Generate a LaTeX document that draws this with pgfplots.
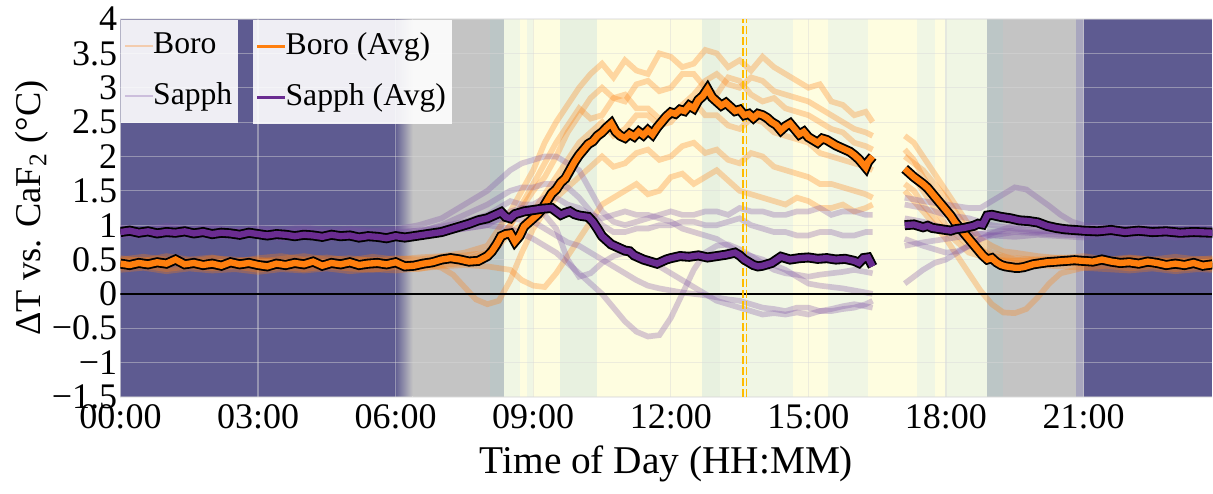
\documentclass[border=0pt]{standalone}
\usepackage{fontspec}
\setmainfont{Liberation Serif}
\usepackage{pgfplots}
\pgfplotsset{compat=1.18}

\definecolor{navy}{RGB}{94,91,145}
\definecolor{bggray}{RGB}{196,196,196}
\definecolor{bgblue}{RGB}{188,198,198}
\definecolor{bgyel}{RGB}{254,253,224}
\definecolor{bggreen}{RGB}{240,246,228}
\definecolor{bggreen2}{RGB}{232,241,224}
\definecolor{bglav}{RGB}{168,166,190}
\definecolor{boro}{RGB}{255,127,14}
\definecolor{sapph}{RGB}{106,44,145}
\definecolor{sapphl}{RGB}{125,80,165}
\definecolor{amber}{RGB}{255,188,0}

\pgfplotsset{
  base/.style={width=327.6pt, height=113.4pt, scale only axis,
    xmin=0, xmax=23.81, ymin=-1.5, ymax=4, unbounded coords=jump},
  ind/.style={line width=1.7pt, opacity=0.3, forget plot},
  lgd/.style={draw=none, fill=white, fill opacity=0.9, text opacity=1,
    font=\fontsize{9.5}{11}\selectfont, inner xsep=1pt, inner ysep=3.4pt,
    row sep=6pt, cells={anchor=west},
    nodes={inner ysep=0.6pt, inner xsep=0.8pt},
    /tikz/every odd column/.append style={column sep=-1.2pt}},
}

\begin{document}
\begin{tikzpicture}
% ---------- background bands ----------
\begin{axis}[base, hide axis]
 \fill[navy] (axis cs:0,-1.5) rectangle (axis cs:5.98,4);
 \shade[left color=navy,right color=bggray] (axis cs:5.98,-1.5) rectangle (axis cs:6.37,4);
 \fill[bggray] (axis cs:6.37,-1.5) rectangle (axis cs:8.05,4);
 \fill[bgblue] (axis cs:8.05,-1.5) rectangle (axis cs:8.36,4);
 \fill[bggreen] (axis cs:8.36,-1.5) rectangle (axis cs:8.71,4);
 \fill[bgyel] (axis cs:8.71,-1.5) rectangle (axis cs:8.86,4);
 \fill[bggreen] (axis cs:8.86,-1.5) rectangle (axis cs:8.99,4);
 \fill[bgyel] (axis cs:8.99,-1.5) rectangle (axis cs:9.58,4);
 \fill[bggreen2] (axis cs:9.58,-1.5) rectangle (axis cs:10.39,4);
 \fill[bgyel] (axis cs:10.39,-1.5) rectangle (axis cs:12.67,4);
 \fill[bggreen2] (axis cs:12.67,-1.5) rectangle (axis cs:13.07,4);
 \fill[bggreen] (axis cs:13.07,-1.5) rectangle (axis cs:14.66,4);
 \fill[bgyel] (axis cs:14.66,-1.5) rectangle (axis cs:15.42,4);
 \fill[bggreen] (axis cs:15.42,-1.5) rectangle (axis cs:16.29,4);
 \fill[bgyel] (axis cs:16.29,-1.5) rectangle (axis cs:17.36,4);
 \fill[bggreen] (axis cs:17.36,-1.5) rectangle (axis cs:17.75,4);
 \fill[bgyel] (axis cs:17.75,-1.5) rectangle (axis cs:17.97,4);
 \fill[bggreen] (axis cs:17.97,-1.5) rectangle (axis cs:18.89,4);
 \fill[bgblue] (axis cs:18.89,-1.5) rectangle (axis cs:19.24,4);
 \fill[bggray] (axis cs:19.24,-1.5) rectangle (axis cs:20.83,4);
 \fill[bglav] (axis cs:20.83,-1.5) rectangle (axis cs:21.02,4);
 \fill[navy] (axis cs:21.02,-1.5) rectangle (axis cs:23.81,4);
\end{axis}

% ---------- main axis: grid, ticks, individual runs ----------
\begin{axis}[base, name=main,
  axis line style={draw=none}, major tick length=0pt,
  xtick={0,3,6,9,12,15,18,21},
  xticklabels={00:00,03:00,06:00,09:00,12:00,15:00,18:00,21:00},
  ytick={-1.5,-1,-0.5,0,0.5,1,1.5,2,2.5,3,3.5,4},
  yticklabels={−1.5,−1,−0.5,0,0.5,1,1.5,2,2.5,3,3.5,4},
  tick label style={font=\fontsize{10.8}{12}\selectfont},
  yticklabel style={inner sep=0pt, xshift=-0.8pt},
  xticklabel style={inner sep=0pt, yshift=-2pt},
  xlabel={Time of Day (HH:MM)},
  ylabel={ΔT vs. CaF\textsubscript{2} (°C)},
  xlabel style={font=\fontsize{11.8}{14}\selectfont, at={(axis description cs:0.5,-0.177)}, anchor=center},
  ylabel style={font=\fontsize{10.9}{13}\selectfont, at={(axis description cs:-0.081,0.5)}, anchor=center},
  grid=major, major grid style={black!15, opacity=0.45, line width=0.35pt},
  legend style={lgd, at={(0,1)}, anchor=north west},
  legend cell align=left,
  legend image code/.code={\draw[#1, line width=0.6pt] (0pt,0pt) -- (8.4pt,0pt);},
]
\addlegendimage{boro, opacity=0.3}\addlegendentry{Boro}
\addlegendimage{sapphl, opacity=0.3}\addlegendentry{Sapph}

% Boro runs
\addplot[boro, ind] coordinates {(0,0.52)(0.5,0.48)(1,0.55)(1.5,0.5)(2,0.53)(2.5,0.47)(3,0.52)(3.5,0.55)(4,0.5)(4.5,0.53)(5,0.49)(5.5,0.54)(6,0.5)(6.5,0.53)(7,0.55)(7.5,0.6)(8,0.7)(8.25,0.95)(8.5,1.2)(8.75,1.5)(9,1.8)(9.25,2.2)(9.5,2.5)(9.75,2.75)(10,3.0)(10.25,3.2)(10.5,3.35)(10.75,3.15)(11,3.4)(11.25,3.25)(11.5,3.2)(11.75,3.5)(12,3.45)(12.25,3.3)(12.5,3.35)(12.75,3.55)(13,3.5)(13.25,3.3)(13.5,3.4)(13.75,3.25)(14,3.45)(14.25,3.3)(14.5,3.2)(14.75,3.1)(15,3.0)(15.25,3.05)(15.5,2.8)(15.75,2.75)(16,2.6)(16.25,2.65)(16.4,2.5)(16.7,nan)(17.1,2.3)(17.3,2.2)(17.5,2.0)(17.75,1.75)(18,1.5)(18.25,1.25)(18.5,1.0)(18.75,0.8)(19,0.7)(19.25,0.62)(19.5,0.6)(20,0.55)(20.5,0.52)(21,0.55)(21.5,0.5)(22,0.53)(22.5,0.5)(23,0.54)(23.5,0.5)(23.81,0.52)};
\addplot[boro, ind] coordinates {(0,0.45)(0.5,0.42)(1,0.47)(1.5,0.44)(2,0.4)(2.5,0.46)(3,0.43)(3.5,0.45)(4,0.41)(4.5,0.46)(5,0.44)(5.5,0.42)(6,0.45)(6.5,0.43)(7,0.48)(7.5,0.5)(8,0.6)(8.25,0.8)(8.5,1.0)(8.75,1.25)(9,1.5)(9.25,1.7)(9.5,2.0)(9.75,2.35)(10,2.6)(10.25,2.85)(10.5,3.0)(10.75,2.85)(11,2.8)(11.25,3.05)(11.5,3.1)(11.75,2.95)(12,3.0)(12.25,3.2)(12.5,3.2)(12.75,3.0)(13,2.9)(13.25,3.15)(13.5,3.1)(13.75,2.9)(14,2.8)(14.25,2.85)(14.5,2.7)(14.75,2.65)(15,2.6)(15.25,2.5)(15.5,2.4)(15.75,2.35)(16,2.2)(16.25,2.15)(16.4,2.1)(16.7,nan)(17.1,2.0)(17.3,1.9)(17.5,1.8)(17.75,1.6)(18,1.4)(18.25,1.15)(18.5,0.9)(18.75,0.7)(19,0.6)(19.5,0.5)(20,0.47)(20.5,0.45)(21,0.43)(21.5,0.46)(22,0.44)(22.5,0.42)(23,0.45)(23.5,0.43)(23.81,0.44)};
\addplot[boro, ind] coordinates {(0,0.38)(0.5,0.41)(1,0.36)(1.5,0.4)(2,0.37)(2.5,0.4)(3,0.35)(3.5,0.39)(4,0.36)(4.5,0.4)(5,0.37)(5.5,0.35)(6,0.39)(6.5,0.36)(7,0.42)(7.5,0.45)(8,0.55)(8.25,0.7)(8.5,0.9)(8.75,1.0)(9,1.2)(9.25,1.45)(9.5,1.7)(9.75,1.95)(10,2.2)(10.25,2.35)(10.5,2.5)(10.75,2.3)(11,2.4)(11.25,2.6)(11.5,2.6)(11.75,2.45)(12,2.5)(12.25,2.7)(12.5,2.8)(12.75,2.6)(13,2.6)(13.25,2.45)(13.5,2.4)(13.75,2.55)(14,2.5)(14.25,2.35)(14.5,2.3)(14.75,2.25)(15,2.2)(15.25,2.05)(15.5,2.0)(15.75,1.95)(16,1.9)(16.25,1.85)(16.4,1.8)(16.7,nan)(17.1,1.8)(17.3,1.7)(17.5,1.5)(17.75,1.25)(18,1.0)(18.25,0.85)(18.5,0.7)(18.75,0.6)(19,0.5)(19.5,0.45)(20,0.42)(20.5,0.4)(21,0.38)(21.5,0.41)(22,0.37)(22.5,0.4)(23,0.36)(23.5,0.39)(23.81,0.37)};
\addplot[boro, ind] coordinates {(0,0.48)(0.5,0.5)(1,0.46)(1.5,0.49)(2,0.45)(2.5,0.48)(3,0.5)(3.5,0.46)(4,0.49)(4.5,0.45)(5,0.48)(5.5,0.5)(6,0.46)(6.5,0.45)(6.75,0.42)(7,0.38)(7.25,0.28)(7.5,0.1)(7.75,-0.08)(8,-0.15)(8.25,-0.1)(8.5,0.2)(8.75,0.6)(9,0.95)(9.25,1.2)(9.5,1.4)(9.75,1.55)(10,1.7)(10.25,1.85)(10.5,2.0)(10.75,1.85)(11,1.9)(11.25,2.05)(11.5,2.1)(11.75,1.95)(12,2.0)(12.25,2.15)(12.5,2.2)(12.75,2.05)(13,2.1)(13.25,1.95)(13.5,1.9)(13.75,2.05)(14,2.0)(14.25,1.85)(14.5,1.8)(14.75,1.75)(15,1.7)(15.25,1.6)(15.5,1.6)(15.75,1.55)(16,1.5)(16.25,1.45)(16.4,1.4)(16.7,nan)(17.1,1.6)(17.3,1.5)(17.5,1.3)(17.75,1.1)(18,0.9)(18.25,0.75)(18.5,0.6)(18.75,0.55)(19,0.5)(19.5,0.48)(20,0.5)(20.5,0.47)(21,0.49)(21.5,0.46)(22,0.5)(22.5,0.47)(23,0.49)(23.5,0.46)(23.81,0.48)};
\addplot[boro, ind] coordinates {(0,0.35)(0.5,0.38)(1,0.33)(1.5,0.37)(2,0.34)(2.5,0.36)(3,0.32)(3.5,0.36)(4,0.34)(4.5,0.37)(5,0.33)(5.5,0.36)(6,0.34)(6.5,0.37)(7,0.4)(7.5,0.42)(8,0.4)(8.5,0.35)(8.75,0.2)(9,0.12)(9.25,0.1)(9.5,0.3)(9.75,0.55)(10,0.8)(10.25,1.05)(10.5,1.3)(10.75,1.4)(11,1.5)(11.25,1.6)(11.5,1.45)(11.75,1.5)(12,1.7)(12.25,1.75)(12.5,1.6)(12.75,1.7)(13,1.8)(13.25,1.65)(13.5,1.5)(13.75,1.45)(14,1.4)(14.25,1.35)(14.5,1.3)(14.75,1.4)(15,1.35)(15.25,1.25)(15.5,1.25)(15.75,1.3)(16,1.2)(16.25,1.25)(16.4,1.3)(16.7,nan)(17.1,1.5)(17.3,1.35)(17.5,1.2)(17.75,1.0)(18,0.8)(18.25,0.55)(18.5,0.3)(18.75,0.05)(19,-0.15)(19.25,-0.27)(19.5,-0.28)(19.75,-0.22)(20,-0.05)(20.25,0.15)(20.5,0.3)(21,0.38)(21.5,0.36)(22,0.34)(22.5,0.37)(23,0.33)(23.5,0.36)(23.81,0.35)};
\addplot[boro, ind] coordinates {(0,0.5)(0.5,0.54)(1,0.5)(1.5,0.47)(2,0.52)(2.5,0.5)(3,0.47)(3.5,0.51)(4,0.55)(4.5,0.5)(5,0.52)(5.5,0.48)(6,0.52)(6.5,0.5)(7,0.54)(7.5,0.56)(8,0.6)(8.25,0.8)(8.5,1.0)(8.75,1.3)(9,1.6)(9.25,1.9)(9.5,2.2)(9.75,2.45)(10,2.7)(10.25,2.55)(10.5,2.6)(10.75,2.85)(11,2.9)(11.25,2.7)(11.5,2.7)(11.75,2.55)(12,2.6)(12.25,2.75)(12.5,2.9)(12.75,3.1)(13,3.2)(13.25,3.05)(13.5,3.0)(13.75,3.15)(14,3.1)(14.25,2.95)(14.5,2.9)(14.75,2.85)(15,2.8)(15.25,2.7)(15.5,2.6)(15.75,2.5)(16,2.4)(16.25,2.35)(16.4,2.3)(16.7,nan)(17.1,2.1)(17.3,1.95)(17.5,1.7)(17.75,1.45)(18,1.2)(18.25,1.0)(18.5,0.8)(18.75,0.65)(19,0.55)(19.5,0.52)(20,0.5)(20.5,0.53)(21,0.5)(21.5,0.48)(22,0.52)(22.5,0.5)(23,0.47)(23.5,0.51)(23.81,0.5)};

% Sapph runs
\addplot[sapphl, ind] coordinates {(0,0.97)(0.5,0.94)(1,0.99)(1.5,0.95)(2,0.97)(2.5,0.93)(3,0.96)(3.5,0.94)(4,0.97)(4.5,0.93)(5,0.95)(5.5,0.92)(6,0.94)(6.5,1.0)(7,1.1)(7.25,1.2)(7.5,1.3)(7.75,1.4)(8,1.5)(8.25,1.65)(8.5,1.8)(8.75,1.9)(9,1.95)(9.25,2.0)(9.5,2.0)(9.75,1.9)(10,1.8)(10.25,1.5)(10.5,1.2)(10.75,1.05)(11,1.0)(11.25,1.05)(11.5,1.1)(11.75,1.15)(12,1.2)(12.25,1.15)(12.5,1.15)(12.75,1.2)(13,1.2)(13.25,1.15)(13.5,1.25)(13.75,1.2)(14,1.2)(14.25,1.15)(14.5,1.15)(14.75,1.2)(15,1.2)(15.25,1.25)(15.5,1.15)(15.75,1.2)(16,1.2)(16.25,1.15)(16.4,1.15)(16.7,nan)(17.1,1.4)(17.5,1.35)(18,1.3)(18.5,1.25)(18.75,1.25)(19,1.35)(19.25,1.45)(19.5,1.55)(19.75,1.52)(20,1.4)(20.25,1.28)(20.5,1.15)(20.75,1.05)(21,1.0)(21.5,0.97)(22,0.95)(22.5,0.98)(23,0.94)(23.5,0.97)(23.81,0.95)};
\addplot[sapphl, ind] coordinates {(0,0.9)(0.5,0.93)(1,0.88)(1.5,0.91)(2,0.87)(2.5,0.9)(3,0.88)(3.5,0.86)(4,0.9)(4.5,0.87)(5,0.85)(5.5,0.88)(6,0.86)(6.5,0.9)(7,1.0)(7.5,1.15)(8,1.3)(8.25,1.4)(8.5,1.5)(8.75,1.55)(9,1.55)(9.25,1.6)(9.5,1.6)(9.75,1.55)(10,1.4)(10.25,1.2)(10.5,1.0)(10.75,0.9)(11,0.9)(11.25,0.95)(11.5,0.95)(11.75,1.0)(12,1.0)(12.25,1.05)(12.5,1.05)(12.75,1.0)(13,1.0)(13.25,1.05)(13.5,1.1)(13.75,1.0)(14,0.95)(14.25,0.9)(14.5,0.9)(14.75,0.85)(15,0.85)(15.25,0.9)(15.5,0.9)(15.75,0.85)(16,0.85)(16.25,0.9)(16.4,0.9)(16.7,nan)(17.1,1.3)(17.5,1.25)(18,1.15)(18.5,1.1)(19,1.0)(19.5,0.95)(20,0.92)(20.5,0.9)(21,0.88)(21.5,0.91)(22,0.87)(22.5,0.9)(23,0.88)(23.5,0.86)(23.81,0.89)};
\addplot[sapphl, ind] coordinates {(0,0.85)(0.5,0.88)(1,0.84)(1.5,0.87)(2,0.83)(2.5,0.86)(3,0.84)(3.5,0.82)(4,0.86)(4.5,0.83)(5,0.81)(5.5,0.84)(6,0.82)(6.5,0.85)(7,0.9)(7.5,0.95)(8,1.0)(8.5,0.95)(9,0.8)(9.25,0.7)(9.5,0.6)(9.75,0.45)(10,0.3)(10.25,0.15)(10.5,0.0)(10.75,-0.2)(11,-0.4)(11.25,-0.55)(11.5,-0.62)(11.75,-0.6)(12,-0.35)(12.25,0.0)(12.5,0.35)(12.75,0.6)(13,0.7)(13.25,0.72)(13.5,0.65)(13.75,0.55)(14,0.45)(14.25,0.35)(14.5,0.3)(14.75,0.28)(15,0.25)(15.25,0.28)(15.5,0.3)(15.75,0.32)(16,0.35)(16.25,0.32)(16.4,0.3)(16.7,nan)(17.1,0.15)(17.3,0.25)(17.5,0.35)(17.75,0.45)(18,0.5)(18.25,0.6)(18.5,0.7)(18.75,0.8)(19,0.85)(19.5,0.9)(20,0.88)(20.5,0.86)(21,0.85)(21.5,0.88)(22,0.84)(22.5,0.87)(23,0.83)(23.5,0.86)(23.81,0.85)};
\addplot[sapphl, ind] coordinates {(0,0.92)(0.5,0.89)(1,0.93)(1.5,0.9)(2,0.88)(2.5,0.92)(3,0.89)(3.5,0.91)(4,0.87)(4.5,0.9)(5,0.88)(5.5,0.86)(6,0.9)(6.5,0.92)(7,0.95)(7.5,1.0)(8,1.05)(8.5,1.1)(9,1.05)(9.25,0.95)(9.5,0.85)(9.75,0.75)(10,0.7)(10.25,0.6)(10.5,0.5)(10.75,0.4)(11,0.3)(11.25,0.2)(11.5,0.12)(11.75,0.08)(12,0.05)(12.25,0.02)(12.5,0.0)(12.75,-0.02)(13,-0.05)(13.25,-0.08)(13.5,-0.1)(13.75,-0.15)(14,-0.2)(14.25,-0.22)(14.5,-0.25)(14.75,-0.2)(15,-0.2)(15.25,-0.25)(15.5,-0.22)(15.75,-0.18)(16,-0.15)(16.25,-0.18)(16.4,-0.2)(16.7,nan)(17.1,0.7)(17.5,0.75)(18,0.8)(18.5,0.85)(19,0.9)(19.5,0.92)(20,0.9)(20.5,0.93)(21,0.9)(21.5,0.88)(22,0.92)(22.5,0.89)(23,0.91)(23.5,0.88)(23.81,0.9)};
\addplot[sapphl, ind] coordinates {(0,0.86)(0.5,0.83)(1,0.87)(1.5,0.84)(2,0.86)(2.5,0.82)(3,0.85)(3.5,0.81)(4,0.84)(4.5,0.8)(5,0.83)(5.5,0.8)(6,0.82)(6.5,0.86)(7,0.9)(7.5,0.95)(8,1.0)(8.25,1.1)(8.5,1.2)(8.75,1.25)(9,1.25)(9.25,1.15)(9.5,0.95)(9.75,0.5)(10,0.25)(10.25,0.3)(10.5,0.45)(10.75,0.55)(11,0.6)(11.25,0.55)(11.5,0.5)(11.75,0.4)(12,0.3)(12.25,0.2)(12.5,0.1)(12.75,0.0)(13,-0.1)(13.25,-0.15)(13.5,-0.2)(13.75,-0.25)(14,-0.3)(14.25,-0.28)(14.5,-0.3)(14.75,-0.27)(15,-0.3)(15.25,-0.25)(15.5,-0.25)(15.75,-0.22)(16,-0.2)(16.25,-0.15)(16.4,-0.1)(16.7,nan)(17.1,1.1)(17.5,1.05)(18,0.95)(18.5,0.9)(19,0.85)(19.5,0.83)(20,0.86)(20.5,0.84)(21,0.82)(21.5,0.86)(22,0.83)(22.5,0.85)(23,0.82)(23.5,0.85)(23.81,0.83)};
\addplot[sapphl, ind] coordinates {(0,0.95)(0.5,0.92)(1,0.96)(1.5,0.93)(2,0.95)(2.5,0.91)(3,0.94)(3.5,0.9)(4,0.93)(4.5,0.89)(5,0.92)(5.5,0.9)(6,0.88)(6.5,0.92)(7,0.98)(7.5,1.05)(8,1.15)(8.25,1.25)(8.5,1.35)(8.75,1.3)(9,1.3)(9.25,1.4)(9.5,1.4)(9.75,1.3)(10,1.25)(10.25,1.15)(10.5,1.1)(10.75,1.15)(11,1.2)(11.25,1.15)(11.5,1.15)(11.75,1.1)(12,1.05)(12.25,0.95)(12.5,0.9)(12.75,0.85)(13,0.8)(13.25,0.7)(13.5,0.6)(13.75,0.55)(14,0.5)(14.25,0.42)(14.5,0.35)(14.75,0.25)(15,0.15)(15.25,0.12)(15.5,0.1)(15.75,0.08)(16,0.05)(16.25,0.02)(16.4,0.0)(16.7,nan)(17.1,0.8)(17.5,0.7)(18,0.6)(18.25,0.62)(18.5,0.7)(18.75,0.8)(19,0.88)(19.5,1.0)(20,1.0)(20.5,0.97)(21,0.95)(21.5,0.93)(22,0.96)(22.5,0.92)(23,0.95)(23.5,0.91)(23.81,0.94)};

% zero line and marker line
\addplot[black, line width=0.6pt, forget plot] coordinates {(0,0)(23.81,0)};
\addplot[amber, line width=0.5pt, dash pattern=on 2.4pt off 0.9pt, forget plot] coordinates {(13.575,-1.5)(13.575,4)};
\addplot[amber, line width=0.5pt, dash pattern=on 2.4pt off 0.9pt, forget plot] coordinates {(13.65,-1.5)(13.65,4)};
\end{axis}

% ---------- averages ----------
\begin{axis}[base, hide axis,
  legend style={lgd, at={(0.1204,1)}, anchor=north west},
  legend cell align=left,
  legend image code/.code={\draw[#1] (0pt,0pt) -- (8.4pt,0pt);},
]
\addlegendimage{boro, line width=0.9pt}\addlegendentry{Boro (Avg)}
\addlegendimage{sapph, line width=0.9pt}\addlegendentry{Sapph (Avg)}

\pgfplotstableread{
t b
0.0 0.44
0.2 0.42
0.4 0.45
0.6 0.43
0.8 0.46
1.0 0.44
1.2 0.50
1.4 0.43
1.6 0.45
1.8 0.42
2.0 0.44
2.2 0.41
2.4 0.46
2.6 0.43
2.8 0.45
3.0 0.42
3.2 0.40
3.4 0.44
3.6 0.42
3.8 0.45
4.0 0.43
4.2 0.47
4.4 0.41
4.6 0.45
4.8 0.43
5.0 0.46
5.2 0.42
5.4 0.44
5.6 0.45
5.8 0.43
6.0 0.46
6.2 0.40
6.4 0.41
6.6 0.44
6.8 0.46
7.0 0.50
7.2 0.52
7.4 0.50
7.6 0.47
7.8 0.48
8.0 0.55
8.1 0.62
8.2 0.72
8.3 0.84
8.4 0.87
8.5 0.88
8.6 0.76
8.7 0.84
8.8 0.98
8.9 1.04
9.0 1.10
9.1 1.16
9.2 1.24
9.3 1.35
9.4 1.46
9.5 1.52
9.6 1.62
9.7 1.68
9.8 1.80
9.9 1.92
10.0 2.02
10.1 2.10
10.2 2.18
10.3 2.22
10.4 2.30
10.5 2.35
10.6 2.42
10.7 2.48
10.8 2.36
10.9 2.30
11.0 2.27
11.1 2.33
11.2 2.29
11.3 2.36
11.4 2.31
11.5 2.38
11.6 2.32
11.7 2.42
11.8 2.50
11.9 2.58
12.0 2.64
12.1 2.62
12.2 2.68
12.3 2.66
12.4 2.74
12.5 2.70
12.6 2.82
12.7 2.88
12.8 2.98
12.9 2.86
13.0 2.80
13.1 2.74
13.2 2.78
13.3 2.72
13.4 2.66
13.5 2.68
13.6 2.60
13.7 2.62
13.8 2.56
13.9 2.62
14.0 2.60
14.1 2.56
14.2 2.50
14.3 2.46
14.4 2.38
14.5 2.44
14.6 2.48
14.7 2.40
14.8 2.32
14.9 2.36
15.0 2.28
15.1 2.24
15.2 2.20
15.3 2.26
15.4 2.24
15.5 2.20
15.6 2.16
15.7 2.13
15.8 2.10
15.9 2.07
16.0 2.02
16.1 1.96
16.2 1.88
16.25 1.84
16.3 1.92
16.4 2.00
16.7 nan
17.1 1.82
17.2 1.76
17.3 1.70
17.4 1.65
17.5 1.60
17.6 1.54
17.7 1.46
17.8 1.38
17.9 1.30
18.0 1.22
18.1 1.14
18.2 1.04
18.3 0.96
18.4 0.88
18.5 0.80
18.6 0.72
18.7 0.64
18.8 0.56
18.9 0.50
19.0 0.52
19.1 0.46
19.2 0.42
19.3 0.40
19.4 0.39
19.5 0.38
19.6 0.38
19.7 0.39
19.8 0.41
19.9 0.43
20.0 0.44
20.2 0.46
20.4 0.47
20.6 0.48
20.8 0.49
21.0 0.48
21.2 0.47
21.4 0.50
21.6 0.47
21.8 0.45
22.0 0.46
22.2 0.44
22.4 0.47
22.6 0.45
22.8 0.42
23.0 0.44
23.2 0.42
23.4 0.45
23.6 0.41
23.81 0.43
}\boroavg

\pgfplotstableread{
t s
0.0 0.90
0.2 0.92
0.4 0.89
0.6 0.91
0.8 0.88
1.0 0.90
1.2 0.89
1.4 0.91
1.6 0.88
1.8 0.90
2.0 0.87
2.2 0.89
2.4 0.88
2.6 0.86
2.8 0.89
3.0 0.87
3.2 0.85
3.4 0.87
3.6 0.86
3.8 0.84
4.0 0.86
4.2 0.85
4.4 0.83
4.6 0.86
4.8 0.84
5.0 0.85
5.2 0.82
5.4 0.84
5.6 0.83
5.8 0.81
6.0 0.84
6.2 0.82
6.4 0.84
6.6 0.86
6.8 0.88
7.0 0.90
7.2 0.94
7.4 0.98
7.6 1.02
7.8 1.07
8.0 1.10
8.2 1.16
8.3 1.19
8.4 1.12
8.5 1.10
8.6 1.16
8.8 1.20
9.0 1.22
9.2 1.24
9.4 1.25
9.5 1.20
9.6 1.15
9.7 1.18
9.8 1.20
9.9 1.16
10.0 1.14
10.2 1.12
10.3 1.05
10.4 0.95
10.5 0.84
10.6 0.78
10.7 0.72
10.8 0.69
10.9 0.66
11.0 0.63
11.1 0.62
11.2 0.56
11.3 0.53
11.4 0.50
11.5 0.48
11.6 0.46
11.7 0.44
11.8 0.47
11.9 0.50
12.0 0.52
12.2 0.55
12.4 0.54
12.6 0.56
12.8 0.53
13.0 0.55
13.2 0.57
13.4 0.60
13.5 0.56
13.6 0.50
13.7 0.46
13.8 0.42
13.9 0.40
14.0 0.41
14.2 0.45
14.4 0.54
14.6 0.50
14.8 0.52
15.0 0.53
15.2 0.51
15.4 0.52
15.6 0.50
15.8 0.51
16.0 0.48
16.1 0.45
16.2 0.52
16.3 0.53
16.4 0.40
16.7 nan
17.1 1.00
17.3 1.01
17.5 0.97
17.6 0.99
17.7 0.96
17.9 0.94
18.0 0.93
18.1 0.92
18.2 0.94
18.4 0.96
18.6 0.99
18.7 1.02
18.8 1.01
18.9 1.14
19.0 1.15
19.2 1.12
19.4 1.10
19.6 1.07
19.8 1.06
20.0 1.04
20.2 0.99
20.4 0.96
20.6 0.94
20.8 0.93
21.0 0.92
21.3 0.91
21.6 0.93
21.9 0.90
22.2 0.92
22.5 0.90
22.8 0.91
23.1 0.89
23.4 0.90
23.81 0.89
}\sapphavg

\addplot[black, line width=3pt, forget plot] table[x=t,y=b] {\boroavg};
\addplot[boro, line width=1.9pt, forget plot] table[x=t,y=b] {\boroavg};
\addplot[black, line width=3pt, forget plot] table[x=t,y=s] {\sapphavg};
\addplot[sapph, line width=1.9pt, forget plot] table[x=t,y=s] {\sapphavg};
\end{axis}

\path ([shift={(-36.15pt,-27pt)}]main.south west) rectangle ([shift={(0pt,5.7pt)}]main.north east);
\end{tikzpicture}
\end{document}
